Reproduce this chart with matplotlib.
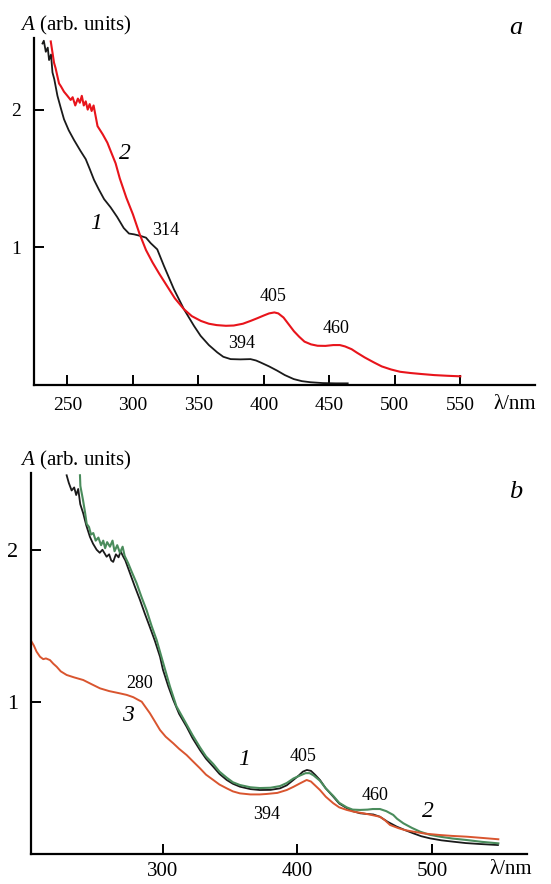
import matplotlib
matplotlib.use("Agg")
import matplotlib.pyplot as plt

plt.rcParams['font.family'] = ['Liberation Serif', 'DejaVu Serif']
plt.rcParams['mathtext.fontset'] = 'custom'
plt.rcParams['mathtext.it'] = 'Liberation Serif:italic'
plt.rcParams['mathtext.rm'] = 'Liberation Serif'

# ---- panel a ----
wl_a1 = [231, 232, 233.5, 235, 236, 237.5, 238.6, 240, 242.4, 245, 247.4, 251, 255, 260, 264, 267,
         270.3, 274, 278, 283, 288, 293, 297, 301, 306, 310, 313.6, 318.6, 323.7, 331.3, 339, 346.6,
         351.7, 358, 364.4, 369, 374.6, 382, 389.8, 394, 397.4, 404, 410.2, 416, 422.8, 429, 435.6,
         445, 455, 464]
A_a1 = [2.48, 2.50, 2.42, 2.45, 2.36, 2.40, 2.27, 2.22, 2.10, 2.01, 1.93, 1.85, 1.78, 1.70, 1.64, 1.57,
        1.49, 1.42, 1.35, 1.29, 1.22, 1.14, 1.10, 1.094, 1.082, 1.07, 1.03, 0.985, 0.865, 0.696, 0.55, 0.43,
        0.357, 0.29, 0.237, 0.205, 0.188, 0.186, 0.188, 0.178, 0.164, 0.135, 0.104, 0.072, 0.043, 0.028, 0.02,
        0.014, 0.012, 0.012]

wl_a2 = [237.3, 239.8, 241, 243.6, 245, 247.4, 250, 252.5, 254, 256, 258, 259.5, 261, 262.5, 264, 265.5,
         267, 268.5, 270, 271, 273, 277, 280.5, 283, 286.8, 290, 295, 300, 305, 310, 315, 320, 326, 332,
         339, 345, 352, 358, 364, 371, 377, 384, 390, 395, 400, 404, 408, 411, 415, 419, 423, 427, 431,
         436, 441, 447, 453, 458, 462, 467, 471, 477, 484, 490, 497, 504, 512, 520, 530, 540, 550]
A_a2 = [2.495, 2.34, 2.30, 2.19, 2.17, 2.13, 2.10, 2.07, 2.09, 2.03, 2.08, 2.05, 2.10, 2.03, 2.06, 2.00,
        2.04, 1.99, 2.03, 1.98, 1.88, 1.82, 1.76, 1.70, 1.61, 1.50, 1.36, 1.24, 1.10, 0.98, 0.89, 0.81, 0.72, 0.63,
        0.55, 0.50, 0.465, 0.445, 0.435, 0.43, 0.432, 0.445, 0.466, 0.485, 0.505, 0.52, 0.527, 0.52, 0.49, 0.44,
        0.39, 0.35, 0.315, 0.295, 0.285, 0.284, 0.29, 0.29, 0.28, 0.26, 0.235, 0.20, 0.164, 0.135, 0.113, 0.096,
        0.087, 0.08, 0.072, 0.067, 0.063]

# ---- panel b ----
wl_b1 = [228.4, 230, 232.1, 234, 235.5, 237, 238.5, 240.7, 243, 245.7, 248, 250.7, 253, 255, 258.1, 260,
         261.5, 263, 265, 267, 268.5, 270.5, 272, 275.5, 279, 282.9, 286.5, 290.3, 294, 297.8, 300, 304,
         307.7, 312, 317.6, 322, 327.5, 332, 337.4, 342, 347.4, 352, 357.2, 365, 372, 380, 387, 392, 396.9,
         401, 404, 407, 410, 413, 416.7, 421, 426.6, 431, 436.6, 441, 446.5, 451, 456.4, 461.3, 467, 473.8,
         480, 486.1, 492, 498.5, 507, 515.8, 525, 535, 549]
A_b1 = [2.49, 2.44, 2.39, 2.41, 2.36, 2.40, 2.30, 2.24, 2.16, 2.085, 2.04, 2.00, 1.98, 2.00, 1.954, 1.97,
        1.93, 1.92, 1.97, 1.95, 1.99, 1.954, 1.93, 1.845, 1.76, 1.67, 1.58, 1.49, 1.40, 1.296, 1.21, 1.10,
        1.011, 0.92, 0.835, 0.76, 0.682, 0.625, 0.572, 0.525, 0.485, 0.46, 0.441, 0.425, 0.419, 0.42, 0.43, 0.45, 0.485,
        0.515, 0.54, 0.551, 0.545, 0.52, 0.485, 0.43, 0.375, 0.33, 0.30, 0.28, 0.266, 0.262, 0.258, 0.243, 0.21, 0.178,
        0.155, 0.134, 0.115, 0.101, 0.088, 0.079, 0.07, 0.064, 0.057]

wl_b2 = [238.3, 238.6, 239, 240.5, 242, 243.3, 245, 246.5, 248.2, 250, 252, 254, 255.6, 257, 258.5, 260.6,
         262.5, 264, 266, 268, 270, 271.5, 274.2, 277, 280.4, 284, 287.9, 291.5, 295.3, 300, 305.2, 310,
         317.6, 322, 327.5, 332, 337.4, 342, 347.4, 352, 357.2, 365, 372, 380, 387, 392, 397, 402, 406, 409,
         412, 416.7, 421, 426.6, 431, 436.6, 441, 446.5, 452, 456, 461.3, 466, 471.2, 474, 478.7, 485, 491.1,
         498, 505.9, 515, 525.8, 537, 549.3]
A_b2 = [2.49, 2.42, 2.40, 2.33, 2.25, 2.17, 2.15, 2.10, 2.11, 2.06, 2.08, 2.03, 2.06, 2.01, 2.05, 2.02,
        2.06, 1.99, 2.03, 1.98, 2.02, 1.96, 1.91, 1.85, 1.78, 1.69, 1.60, 1.50, 1.406, 1.26, 1.10, 0.97,
        0.85, 0.78, 0.70, 0.64, 0.59, 0.54, 0.50, 0.47, 0.452, 0.437, 0.432, 0.434, 0.445, 0.465, 0.495, 0.515,
        0.53, 0.53, 0.515, 0.48, 0.43, 0.38, 0.335, 0.305, 0.29, 0.288, 0.29, 0.294, 0.294, 0.28, 0.255, 0.23,
        0.20, 0.17, 0.145, 0.125, 0.112, 0.10, 0.09, 0.078, 0.068]

wl_b3 = [202, 204, 206, 208.6, 211, 213, 216, 218.5, 221, 224, 228.4, 234, 240.7, 247, 253.2, 260, 268, 273,
         277.9, 281, 284.2, 287, 290.3, 294, 297.8, 302, 307.7, 312, 317.6, 322, 327.5, 332, 337.4, 342,
         347.4, 352, 357.2, 365, 372, 377, 385, 392, 397, 401.9, 406.8, 410, 413, 416.7, 421, 426.6, 431,
         436.6, 442, 448.9, 455, 461.3, 465, 468.8, 475, 480, 486.1, 495, 505.9, 515, 525.8, 537, 549.3]
A_b3 = [1.40, 1.37, 1.33, 1.296, 1.28, 1.285, 1.274, 1.25, 1.23, 1.20, 1.176, 1.16, 1.143, 1.115, 1.088, 1.07,
        1.055, 1.045, 1.03, 1.015, 1.0, 0.965, 0.924, 0.87, 0.814, 0.77, 0.726, 0.69, 0.649, 0.61, 0.562, 0.52,
        0.485, 0.455, 0.43, 0.41, 0.397, 0.39, 0.39, 0.393, 0.40, 0.419, 0.44, 0.463, 0.485, 0.475, 0.45, 0.419,
        0.375, 0.332, 0.305, 0.288, 0.276, 0.266, 0.255, 0.243, 0.22, 0.189, 0.168, 0.155, 0.145, 0.132, 0.123,
        0.117, 0.112, 0.104, 0.095]

W, H = 551, 884


def fx(px):
    return px / W


def fy(py):
    return 1 - py / H


def style_axes(ax, size):
    for s in ['top', 'right']:
        ax.spines[s].set_visible(False)
    for s in ['left', 'bottom']:
        ax.spines[s].set_linewidth(1.6)
    ax.tick_params(direction='in', length=7, width=1.4, labelsize=size, pad=9)


fig = plt.figure(figsize=(W / 100, H / 100), dpi=100)

# panel a
ax1 = fig.add_axes([fx(34), fy(385), (535 - 34) / W, (385 - 38) / H])
ax1.plot(wl_a1, A_a1, color='#1a1a1a', lw=1.3)
ax1.plot(wl_a2, A_a2, color='#e8141b', lw=1.5)
ax1.set_xlim(224.5, 607)
ax1.set_ylim(0, 2.52)
ax1.set_xticks([250, 300, 350, 400, 450, 500, 550])
ax1.set_yticks([1, 2])
style_axes(ax1, 14)
ax1.text(294, 1.68, '2', fontsize=17, style='italic', ha='center', va='center')
ax1.text(272, 1.17, '1', fontsize=17, style='italic', ha='center', va='center')
ax1.text(325, 1.12, '314', fontsize=13, ha='center', va='center')
ax1.text(383, 0.30, '394', fontsize=13, ha='center', va='center')
ax1.text(407, 0.64, '405', fontsize=13, ha='center', va='center')
ax1.text(455, 0.41, '460', fontsize=13, ha='center', va='center')

# panel b
ax2 = fig.add_axes([fx(31), fy(853.7), (527 - 31) / W, (853.7 - 473) / H])
ax2.plot(wl_b1, A_b1, color='#1a1a1a', lw=1.3)
ax2.plot(wl_b2, A_b2, color='#4a8c5c', lw=1.5)
ax2.plot(wl_b3, A_b3, color='#d9552f', lw=1.4)
ax2.set_xlim(201.9, 570.6)
ax2.set_ylim(0, 2.505)
ax2.set_xticks([300, 400, 500])
ax2.set_yticks([1, 2])
style_axes(ax2, 16)
ax2.tick_params(axis='x', labelsize=15, pad=6)
ax2.text(274, 0.91, '3', fontsize=17, style='italic', ha='center', va='center')
ax2.text(283, 1.12, '280', fontsize=13, ha='center', va='center')
ax2.text(360, 0.62, '1', fontsize=17, style='italic', ha='center', va='center')
ax2.text(377, 0.26, '394', fontsize=13, ha='center', va='center')
ax2.text(404, 0.64, '405', fontsize=13, ha='center', va='center')
ax2.text(458, 0.385, '460', fontsize=13, ha='center', va='center')
ax2.text(497, 0.275, '2', fontsize=17, style='italic', ha='center', va='center')

# axis titles and panel letters
fig.text(fx(20), fy(25), r'$A$ (arb. units)', fontsize=15, ha='left', va='center')
fig.text(fx(20), fy(460), r'$A$ (arb. units)', fontsize=15, ha='left', va='center')
fig.text(fx(493), fy(405), 'λ/nm', fontsize=15, ha='left', va='center')
fig.text(fx(489), fy(870), 'λ/nm', fontsize=15, ha='left', va='center')
fig.text(fx(516), fy(28), 'a', fontsize=19, style='italic', ha='center', va='center')
fig.text(fx(516), fy(492), 'b', fontsize=19, style='italic', ha='center', va='center')

fig.savefig('out.png', dpi=100)
